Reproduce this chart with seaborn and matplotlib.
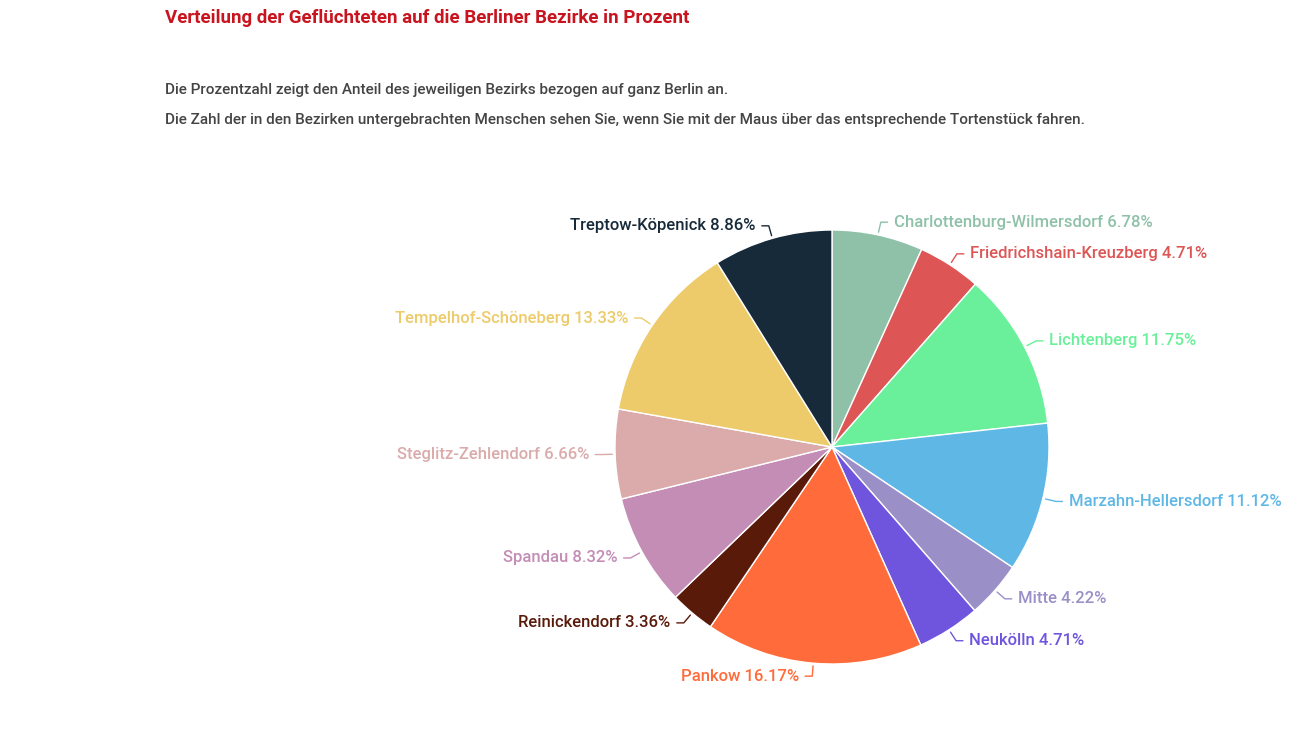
import numpy as np
import matplotlib
matplotlib.use("Agg")
import matplotlib.pyplot as plt
import seaborn as sns

sns.set_theme(style="white")
plt.rcParams['font.family'] = ['Roboto', 'DejaVu Sans']

districts = ["Charlottenburg-Wilmersdorf", "Friedrichshain-Kreuzberg", "Lichtenberg",
             "Marzahn-Hellersdorf", "Mitte", "Neukölln", "Pankow", "Reinickendorf",
             "Spandau", "Steglitz-Zehlendorf", "Tempelhof-Schöneberg", "Treptow-Köpenick"]
shares = [6.78, 4.71, 11.75, 11.12, 4.22, 4.71, 16.17, 3.36, 8.32, 6.66, 13.33, 8.86]
colors = ["#8fc1a9", "#dd5555", "#6af09a", "#5fb7e5", "#9a8fc7", "#6f55dd",
          "#ff6b3a", "#5a1a0a", "#c38db5", "#dbabab", "#edcb6a", "#172a3a"]

fig = plt.figure(figsize=(13.01, 7.32), dpi=100)
fig.text(165/1301, 1-18/732, "Verteilung der Geflüchteten auf die Berliner Bezirke in Prozent",
         color="#c8141e", fontsize=13.5, fontweight="bold", va="center")
fig.text(165/1301, 1-90/732, "Die Prozentzahl zeigt den Anteil des jeweiligen Bezirks bezogen auf ganz Berlin an.",
         color="#444444", fontsize=11, fontweight="medium", va="center")
fig.text(165/1301, 1-120/732, "Die Zahl der in den Bezirken untergebrachten Menschen sehen Sie, wenn Sie mit der Maus über das entsprechende Tortenstück fahren.",
         color="#444444", fontsize=11, fontweight="medium", va="center")

r = 217
ax = fig.add_axes([(832-r)/1301, 1-(447+r)/732, 2*r/1301, 2*r/732])
wedges, _ = ax.pie(shares, colors=colors, startangle=90, counterclock=False,
                   wedgeprops=dict(edgecolor="white", linewidth=1))
ax.set_xlim(-1, 1)
ax.set_ylim(-1, 1)
ax.set_aspect("equal")

for w, name, val, c in zip(wedges, districts, shares, colors):
    ang = np.deg2rad((w.theta1 + w.theta2) / 2)
    x, y = np.cos(ang), np.sin(ang)
    side = 1 if x >= 0 else -1
    tx, ty = 1.06 * x + side * 0.06, 1.06 * y
    ax.annotate(f"{name} {val:.2f}%", xy=(x, y), xytext=(tx, ty),
                ha="left" if side > 0 else "right", va="center",
                color=c, fontsize=12, fontweight="medium", annotation_clip=False,
                arrowprops=dict(arrowstyle="-", color=c, lw=1,
                                connectionstyle="angle,angleA=0,angleB=%d" % (np.rad2deg(ang))))

fig.savefig("out.png", dpi=100, facecolor="white")
